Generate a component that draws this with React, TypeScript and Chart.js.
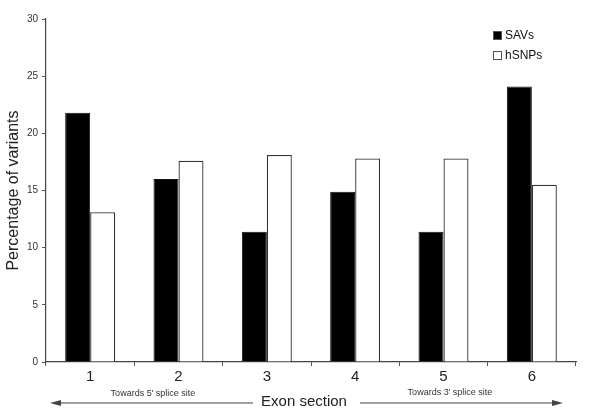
import { useEffect, useRef } from 'react';
import { Chart, registerables } from 'chart.js';

Chart.register(...registerables);

const sections = ['1', '2', '3', '4', '5', '6'];
const savs = [21.8, 16.0, 11.4, 14.9, 11.4, 24.1];
const hsnps = [13.1, 17.6, 18.1, 17.8, 17.8, 15.5];
const yTicks = [0, 5, 10, 15, 20, 25, 30];

const FONT = '"Liberation Sans", Arial, Helvetica, sans-serif';

// legend + the bits under the x axis (arrows, captions)
const extrasPlugin = {
    id: 'extras',
    afterDraw(chart: any) {
        const { ctx, chartArea } = chart;
        const { left, right, bottom, top } = chartArea;
        ctx.save();

        // legend, top right
        chart.data.datasets.forEach((ds: any, i: number) => {
            const y = top + 12 + i * 20;
            ctx.fillStyle = ds.backgroundColor;
            ctx.fillRect(right - 83, y, 9, 9);
            ctx.strokeStyle = '#555';
            ctx.lineWidth = 1;
            ctx.strokeRect(right - 82.5, y + 0.5, 8, 8);
            ctx.fillStyle = '#111';
            ctx.font = `12px ${FONT}`;
            ctx.textAlign = 'left';
            ctx.textBaseline = 'middle';
            ctx.fillText(ds.label, right - 71, y + 5);
        });

        const mid = (left + right) / 2;
        const arrowY = bottom + 41;

        ctx.fillStyle = '#222';
        ctx.font = `15px ${FONT}`;
        ctx.textAlign = 'center';
        ctx.textBaseline = 'middle';
        ctx.fillText('Exon section', mid - 7, arrowY - 1);

        ctx.font = `9px ${FONT}`;
        ctx.fillStyle = '#333';
        ctx.fillText("Towards 5' splice site", left + 107, bottom + 32);
        ctx.fillText("Towards 3' splice site", right - 126, bottom + 31);

        ctx.strokeStyle = '#444';
        ctx.fillStyle = '#444';
        ctx.lineWidth = 1.2;
        // left arrow
        const lx0 = left + 4, lx1 = mid - 58;
        ctx.beginPath();
        ctx.moveTo(lx0 + 8, arrowY);
        ctx.lineTo(lx1, arrowY);
        ctx.stroke();
        ctx.beginPath();
        ctx.moveTo(lx0, arrowY);
        ctx.lineTo(lx0 + 11, arrowY - 3);
        ctx.lineTo(lx0 + 11, arrowY + 3);
        ctx.closePath();
        ctx.fill();
        // right arrow
        const rx0 = mid + 49, rx1 = right - 13;
        ctx.beginPath();
        ctx.moveTo(rx0, arrowY);
        ctx.lineTo(rx1 - 8, arrowY);
        ctx.stroke();
        ctx.beginPath();
        ctx.moveTo(rx1, arrowY);
        ctx.lineTo(rx1 - 11, arrowY - 3);
        ctx.lineTo(rx1 - 11, arrowY + 3);
        ctx.closePath();
        ctx.fill();

        ctx.restore();
    },
};

function ExonChart() {
    const canvasRef = useRef<HTMLCanvasElement | null>(null);
    const chartInstance = useRef<Chart | null>(null);

    useEffect(() => {
        if (!canvasRef.current) return;
        const ctx = canvasRef.current.getContext('2d');
        if (!ctx) return;
        if (chartInstance.current) chartInstance.current.destroy();

        chartInstance.current = new Chart(ctx, {
            type: 'bar',
            data: {
                labels: sections,
                datasets: [
                    {
                        label: 'SAVs',
                        data: savs,
                        backgroundColor: '#000000',
                        borderColor: '#111111',
                        borderWidth: 1,
                        categoryPercentage: 0.566,
                        barPercentage: 1,
                    },
                    {
                        label: 'hSNPs',
                        data: hsnps,
                        backgroundColor: '#ffffff',
                        borderColor: '#333333',
                        borderWidth: 1.3,
                        categoryPercentage: 0.566,
                        barPercentage: 1,
                    },
                ],
            },
            options: {
                animation: false,
                responsive: false,
                maintainAspectRatio: false,
                events: [],
                layout: { padding: { top: 19, right: 24, left: 0, bottom: 0 } },
                plugins: {
                    legend: { display: false },
                    tooltip: { enabled: false },
                },
                scales: {
                    x: {
                        grid: {
                            offset: true,
                            drawOnChartArea: false,
                            drawTicks: true,
                            tickLength: 4,
                            color: '#555',
                        },
                        border: { display: true, color: '#444', width: 1.2 },
                        ticks: {
                            color: '#222',
                            font: { family: FONT, size: 15 },
                            padding: 2,
                        },
                        afterFit(scale: any) {
                            scale.height = 50;
                        },
                    },
                    y: {
                        min: 0,
                        max: 30,
                        afterBuildTicks(scale: any) {
                            scale.ticks = yTicks.map(v => ({ value: v }));
                        },
                        grid: {
                            drawOnChartArea: false,
                            drawTicks: true,
                            tickLength: 4,
                            color: '#555',
                        },
                        border: { display: true, color: '#444', width: 1.2 },
                        ticks: {
                            color: '#333',
                            font: { family: FONT, size: 10 },
                            padding: 4,
                        },
                        title: {
                            display: true,
                            text: 'Percentage of variants',
                            color: '#222',
                            font: { family: FONT, size: 16 },
                            padding: { top: 4, bottom: 4 },
                        },
                        afterFit(scale: any) {
                            scale.width = 46;
                        },
                    },
                },
            },
            plugins: [extrasPlugin],
        });

        return () => {
            if (chartInstance.current) {
                chartInstance.current.destroy();
                chartInstance.current = null;
            }
        };
    }, []);

    return <canvas ref={canvasRef} width={600} height={412} style={{ display: 'block' }} />;
}

export default function App() {
    return (
        <div style={{ position: 'fixed', left: 0, top: 0, width: 600, height: 412, background: '#fff' }}>
            <ExonChart />
        </div>
    );
}
